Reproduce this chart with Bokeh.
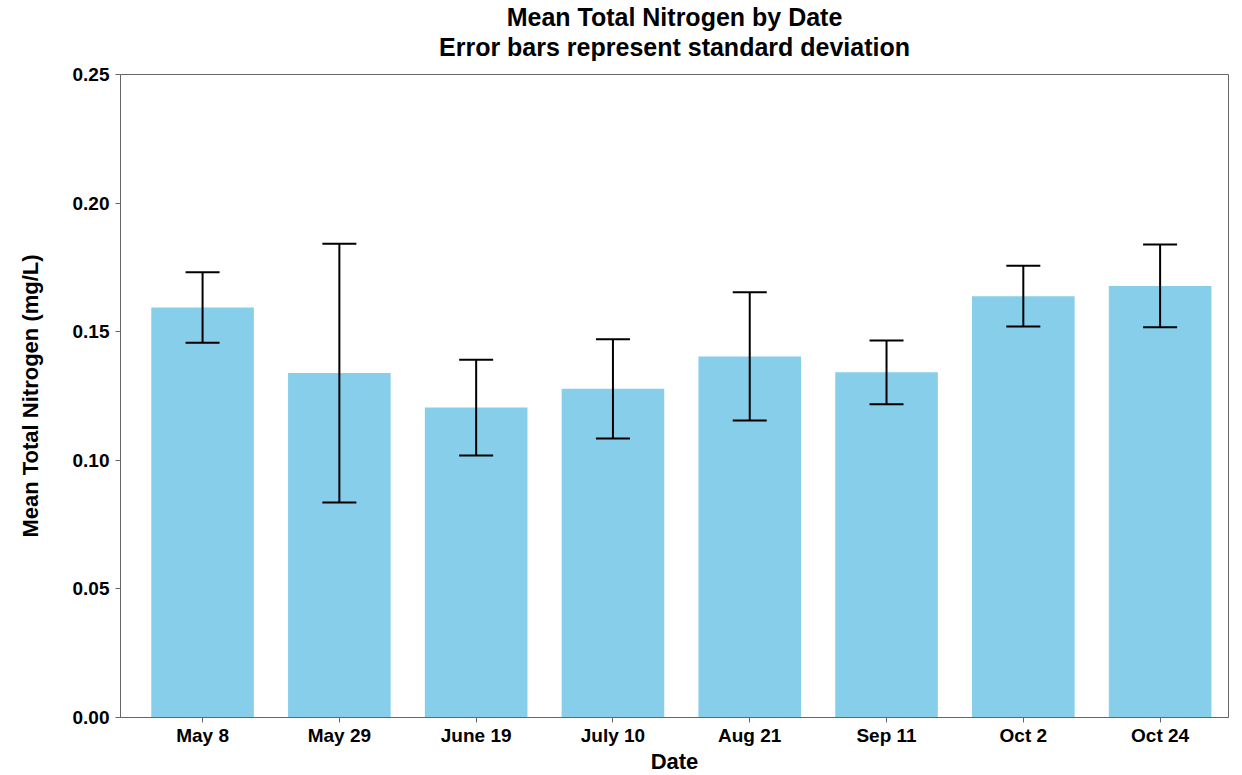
from bokeh.plotting import figure
from bokeh.models import (Range1d, FixedTicker, Whisker, ColumnDataSource, Title,
                          TeeHead, NumeralTickFormatter)
from bokeh.embed import file_html
from bokeh.resources import INLINE

# ---- data ----
dates = ["May 8", "May 29", "June 19", "July 10", "Aug 21", "Sep 11", "Oct 2", "Oct 24"]
mean_tn = [0.1594, 0.1339, 0.1205, 0.1278, 0.1404, 0.1342, 0.1638, 0.1678]
sd_tn = [0.0137, 0.0503, 0.0186, 0.0193, 0.0249, 0.0124, 0.0118, 0.0161]
y_ticks = [0.0, 0.05, 0.10, 0.15, 0.20, 0.25]

title_1 = "Mean Total Nitrogen by Date"
title_2 = "Error bars represent standard deviation"
x_label = "Date"
y_label = "Mean Total Nitrogen (mg/L)"

FONT = "Liberation Sans"
BAR_COLOR = "#87CEEB"
AXIS_COLOR = "#666666"

xs = list(range(len(dates)))
src = ColumnDataSource(dict(
    x=xs,
    top=mean_tn,
    upper=[m + s for m, s in zip(mean_tn, sd_tn)],
    lower=[m - s for m, s in zip(mean_tn, sd_tn)],
))

p = figure(frame_width=1108, frame_height=643, output_backend="svg", toolbar_location=None,
           x_range=Range1d(-0.6, len(dates) - 0.5), y_range=Range1d(0, 0.25),
           title_location=None,
           min_border_left=120, min_border_right=6, min_border_top=74, min_border_bottom=0)

p.vbar(x="x", top="top", width=0.75, source=src, fill_color=BAR_COLOR, line_color=None)

w = Whisker(source=src, base="x", upper="upper", lower="lower",
            line_color="black", line_width=2, level="annotation",
            upper_head=TeeHead(size=34, line_width=2, line_color="black"),
            lower_head=TeeHead(size=34, line_width=2, line_color="black"))
p.add_layout(w)

# titles (a blank spacer title sits nearest the frame)
p.add_layout(Title(text=" ", text_font=FONT, text_font_size="11px", standoff=0), "above")
p.add_layout(Title(text=title_2, align="center", text_font=FONT, text_font_style="bold",
                   text_font_size="25px", text_color="black", standoff=0), "above")
p.add_layout(Title(text=title_1, align="center", text_font=FONT, text_font_style="bold",
                   text_font_size="25px", text_color="black", standoff=0), "above")

# grids / outline
p.xgrid.visible = False
p.ygrid.visible = False
p.outline_line_color = AXIS_COLOR
p.outline_line_width = 1
p.background_fill_color = "white"

# axes
p.xaxis.ticker = FixedTicker(ticks=xs)
p.xaxis.major_label_overrides = {i: d for i, d in zip(xs, dates)}
p.yaxis.ticker = FixedTicker(ticks=y_ticks)
p.yaxis.formatter = NumeralTickFormatter(format="0.00")

for ax in (p.xaxis[0], p.yaxis[0]):
    ax.axis_line_color = AXIS_COLOR
    ax.major_tick_line_color = AXIS_COLOR
    ax.minor_tick_line_color = None
    ax.major_tick_out = 5
    ax.major_tick_in = 0
    ax.major_label_text_font = FONT
    ax.major_label_text_font_style = "bold"
    ax.major_label_text_font_size = "19px"
    ax.major_label_text_color = "black"
    ax.axis_label_text_font = FONT
    ax.axis_label_text_font_style = "bold"
    ax.axis_label_text_font_size = "22px"
    ax.axis_label_text_color = "black"

p.xaxis.axis_label = x_label
p.yaxis.axis_label = y_label
p.xaxis.major_label_standoff = 2
p.xaxis.axis_label_standoff = 0
p.yaxis.major_label_standoff = 6
p.yaxis.axis_label_standoff = 27

open("out.html", "w").write(file_html(p, INLINE))
